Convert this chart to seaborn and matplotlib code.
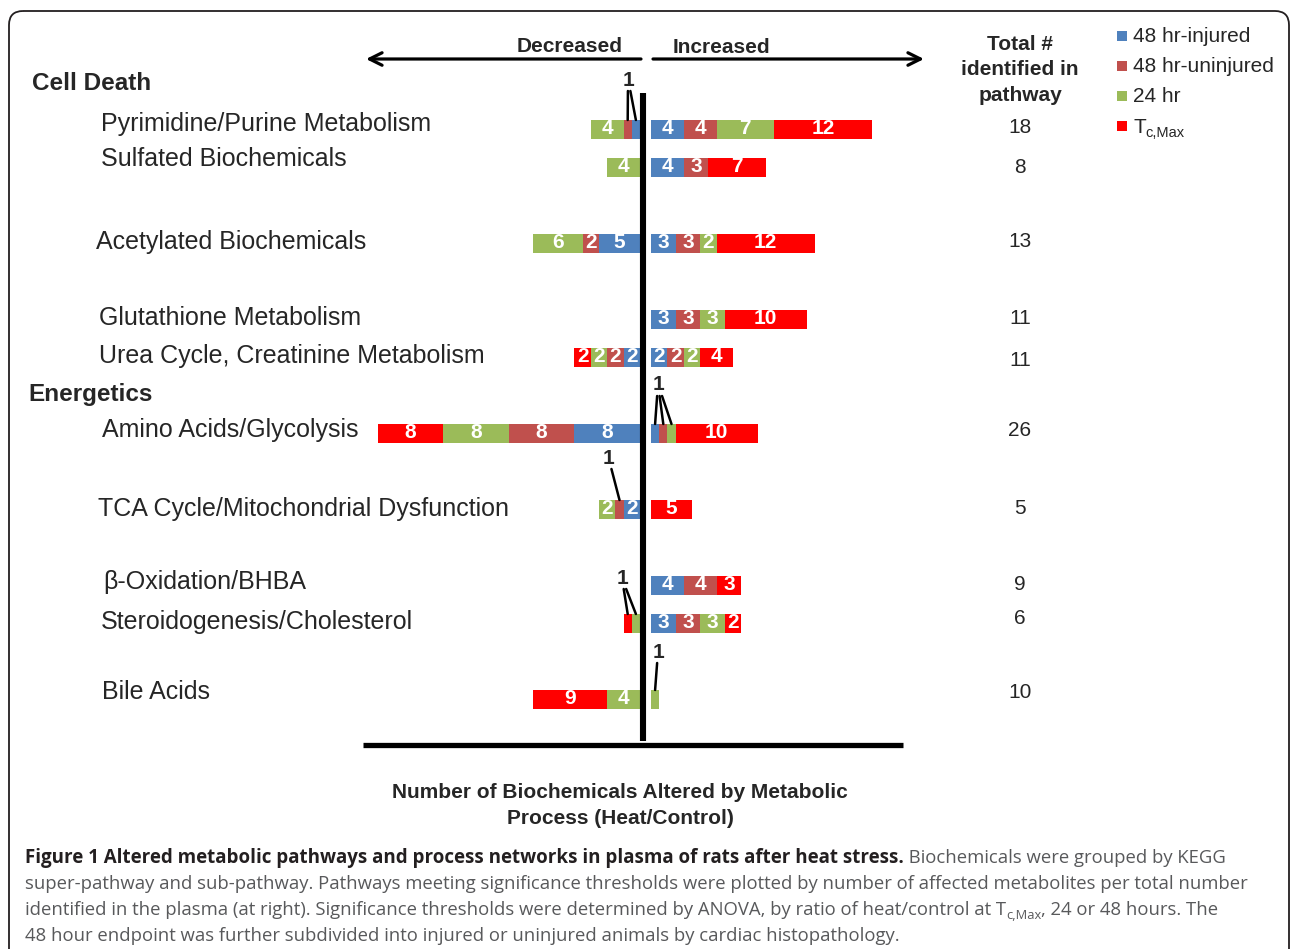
import numpy as np
import pandas as pd
import seaborn as sns
import matplotlib.pyplot as plt
from matplotlib.patches import FancyBboxPatch, Rectangle

# pathways, top to bottom
pathways = ['Pyrimidine/Purine Metabolism', 'Sulfated Biochemicals', 'Acetylated Biochemicals',
            'Glutathione Metabolism', 'Urea Cycle, Creatinine Metabolism', 'Amino Acids/Glycolysis',
            'TCA Cycle/Mitochondrial Dysfunction', 'β-Oxidation/BHBA', 'Steroidogenesis/Cholesterol',
            'Bile Acids']
groups = ['Cell Death', 'Energetics']
series = ['48 hr-injured', '48 hr-uninjured', '24 hr', ('T', 'c,Max')]

# increased (right of the line), segments listed from the line outward
inc_48_injured = [4, 4, 3, 3, 2, 1, 0, 4, 3, 0]
inc_48_uninjured = [4, 3, 3, 3, 2, 1, 0, 4, 3, 0]
inc_24hr = [7, 0, 2, 3, 2, 1, 0, 0, 3, 1]
inc_tcmax = [12, 7, 12, 10, 4, 10, 5, 3, 2, 0]

# decreased (left of the line)
dec_48_injured = [1, 0, 5, 0, 2, 8, 2, 0, 0, 0]
dec_48_uninjured = [1, 0, 2, 0, 2, 8, 1, 0, 0, 0]
dec_24hr = [4, 4, 6, 0, 2, 8, 2, 0, 1, 4]
dec_tcmax = [0, 0, 0, 0, 2, 8, 0, 0, 1, 9]

totals = [18, 8, 13, 11, 11, 26, 5, 9, 6, 10]

caption_bold = 'Figure 1 Altered metabolic pathways and process networks in plasma of rats after heat stress.'
caption_1 = ' Biochemicals were grouped by KEGG'
caption_2 = ('super-pathway and sub-pathway. Pathways meeting significance thresholds were plotted '
             'by number of affected metabolites per total number')
caption_3a = ('identified in the plasma (at right). Significance thresholds were determined by ANOVA, '
              'by ratio of heat/control at T')
caption_3sub = 'c,Max'
caption_3b = ', 24 or 48 hours. The'
caption_4 = '48 hour endpoint was further subdivided into injured or uninjured animals by cardiac histopathology.'

# ---- layout (pixels) ----
slots = [0, 1, 3, 5, 6, 8, 10, 12, 13, 15]
colors = ['#4F81BD', '#C0504D', '#9BBB59', '#FF0000']
W, H = 1293, 949
X0, PX = 643, 8.2      # centre line, pixels per biochemical
Y0, SLOT = 129, 38     # first bar centre, pixels per slot
label_x = [101, 101, 96, 99, 99, 102, 98, 103, 101, 102]
label_y = [124, 159, 242, 318, 356, 430, 509, 582, 622, 692]
total_y = [127, 167, 241, 318, 360, 430, 508, 585, 619, 692]

sns.set_style('white')
plt.rcParams['font.family'] = ['Liberation Sans', 'DejaVu Sans']

fig = plt.figure(figsize=(W / 100, H / 100), dpi=100)
ax = fig.add_axes([0, 0, 1, 1])
fx = fig.add_axes([0, 0, 1, 1])
fx.patch.set_alpha(0)

right_start = (651 - X0) / PX
left_end = (640 - X0) / PX

inc = np.array([inc_48_injured, inc_48_uninjured, inc_24hr, inc_tcmax])
dec = np.array([dec_48_injured, dec_48_uninjured, dec_24hr, dec_tcmax])
inc_left = right_start + np.vstack([np.zeros(len(slots)), np.cumsum(inc, axis=0)[:-1]])
dec_left = left_end - np.cumsum(dec, axis=0)

for k in range(4):
    for vals, lefts in ((inc[k], inc_left[k]), (dec[k], dec_left[k])):
        df = pd.DataFrame({'pos': slots, 'n': vals})
        sns.barplot(data=df, x='n', y='pos', orient='y', native_scale=True, width=0.5,
                    color=colors[k], saturation=1, errorbar=None, linewidth=0,
                    left=lefts, ax=ax)
        for s, v, l in zip(slots, vals, lefts):
            if v >= 2:
                ax.text(l + v / 2, s, str(v), color='white', fontsize=15, fontweight='bold',
                        ha='center', va='center')

ax.set_xlim((0 - X0) / PX, (W - X0) / PX)
ax.set_ylim((H - Y0) / SLOT, (0 - Y0) / SLOT)
ax.axis('off')

fx.set_xlim(0, W)
fx.set_ylim(H, 0)
fx.axis('off')

# frame
fx.add_patch(FancyBboxPatch((9, 11), 1280, 980, boxstyle='round,pad=0,rounding_size=14',
                            fc='none', ec='#231f20', lw=1.3))

# centre and bottom lines
fx.plot([643, 643], [93, 741], color='black', lw=4.4, solid_capstyle='butt')
fx.plot([363, 903], [745, 745], color='black', lw=3.8, solid_capstyle='butt')

# direction arrows
arrow = dict(arrowstyle='->,head_length=0.9,head_width=0.45', lw=2.3, color='black',
             shrinkA=0, shrinkB=0)
fx.annotate('', xy=(366, 59), xytext=(641, 59), arrowprops=arrow)
fx.annotate('', xy=(924, 59), xytext=(653, 59), arrowprops=arrow)
fx.text(570, 46, 'Decreased', fontsize=15, fontweight='bold', ha='center', va='center')
fx.text(721, 47, 'Increased', fontsize=15, fontweight='bold', ha='center', va='center')

# group and pathway labels
fx.text(32, 83, groups[0], fontsize=17.5, fontweight='bold', va='center')
fx.text(28, 394, groups[1], fontsize=17.5, fontweight='bold', va='center')
for name, x, y in zip(pathways, label_x, label_y):
    fx.text(x, y, name, fontsize=18, va='center')

# totals column
for i, line in enumerate(['Total #', 'identified in', 'pathway']):
    fx.text(1020, 44 + 25.5 * i, line, fontsize=15, fontweight='bold', ha='center', va='center')
for t, y in zip(totals, total_y):
    fx.text(1020, y, str(t), fontsize=15, ha='center', va='center')


# callouts for the single-biochemical segments
def seg_px(side, row, k):
    if side == 'inc':
        c = inc_left[k][row] + inc[k][row] / 2
    else:
        c = dec_left[k][row] + dec[k][row] / 2
    return X0 + PX * c


callouts = [(0, 628, 80, [('dec', 1), ('dec', 0)]),
            (5, 658, 385, [('inc', 0), ('inc', 1), ('inc', 2)]),
            (6, 608, 458, [('dec', 1)]),
            (8, 622, 578, [('dec', 3), ('dec', 2)]),
            (9, 658, 652, [('inc', 2)])]
for row, lx, ly, targets in callouts:
    fx.text(lx, ly, '1', fontsize=15, fontweight='bold', ha='center', va='center')
    bar_top = Y0 + SLOT * slots[row] - 9
    for side, k in targets:
        tx = seg_px(side, row, k)
        sx = lx + 0.3 * (tx - lx)
        fx.plot([sx, tx], [ly + 11, bar_top], color='black', lw=1.8)

fig.canvas.draw()
renderer = fig.canvas.get_renderer()

# legend
for i, (lab, c) in enumerate(zip(series, colors)):
    y = 36 + 30 * i
    fx.add_patch(Rectangle((1117, y - 5), 10, 10, fc=c, ec='none'))
    if isinstance(lab, tuple):
        t = fx.text(1133, y + 7, lab[0], fontsize=15, va='baseline')
        bb = t.get_window_extent(renderer)
        fx.text(bb.x1, H - (y + 11), lab[1], fontsize=10.5, va='baseline', transform=None)
    else:
        fx.text(1133, y, lab, fontsize=15, va='center')

# x title
fx.text(620, 792, 'Number of Biochemicals Altered by Metabolic', fontsize=15, fontweight='bold',
        ha='center', va='center')
fx.text(620, 818, 'Process (Heat/Control)', fontsize=15, fontweight='bold', ha='center', va='center')

# caption
cap_font = ['Open Sans', 'DejaVu Sans']
cap_kw = dict(fontsize=13.35, family=cap_font, color='#58595b', va='baseline')
bt = fx.text(25, 863, caption_bold, fontsize=13.5, fontweight='bold', family=cap_font,
             color='#231f20', va='baseline')
bb = bt.get_window_extent(renderer)
fx.text(bb.x1, H - 863, caption_1, transform=None, **cap_kw)
fx.text(25, 889, caption_2, **cap_kw)
t3 = fx.text(25, 915, caption_3a, **cap_kw)
bb = t3.get_window_extent(renderer)
ts = fx.text(bb.x1, H - 919, caption_3sub, transform=None,
             fontsize=9.3, family=cap_font, color='#58595b', va='baseline')
bb = ts.get_window_extent(renderer)
fx.text(bb.x1, H - 915, caption_3b, transform=None, **cap_kw)
fx.text(25, 941, caption_4, **cap_kw)

fig.savefig('out.png', dpi=100)
